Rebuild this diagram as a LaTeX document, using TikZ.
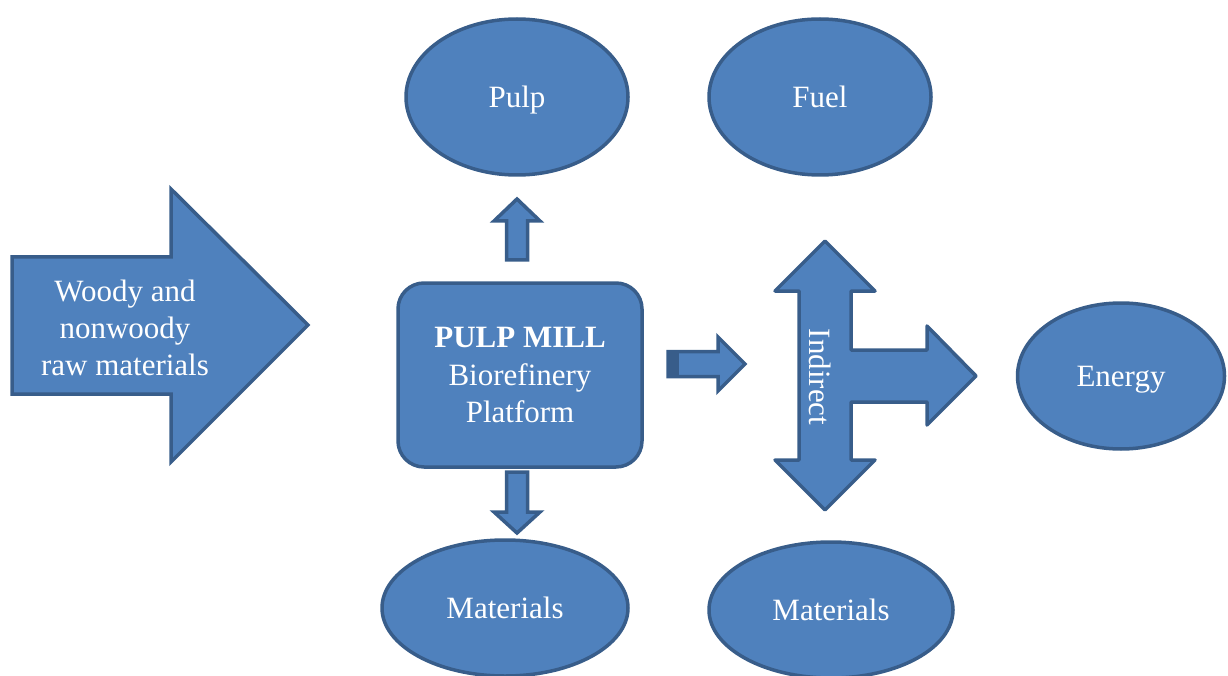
\documentclass[tikz,border=0pt]{standalone}
\usepackage{fontspec}
\setmainfont{Liberation Serif}
\usetikzlibrary{shapes.geometric}
\definecolor{oblue}{HTML}{4F81BD}
\definecolor{oedge}{HTML}{385D8A}
\tikzset{
  every picture/.style={line width=3.5pt},
  blob/.style={ellipse, draw=oedge, fill=oblue, text=white, inner sep=0pt, text depth=0pt},
  block/.style={draw=oedge, fill=oblue, line join=miter},
  label/.style={text=white, align=center, font=\fontsize{31}{37}\selectfont},
}

\begin{document}
\begin{tikzpicture}[x=1pt, y=-1pt, every node/.append style={font=\fontsize{31}{37}\selectfont}]
  \useasboundingbox (0,0) rectangle (1228,676);
  % input arrow with the raw materials
  \draw[block] (12,257) -- (171,257) -- (171,189) -- (308,325) -- (171,462) -- (171,394) -- (12,394) -- cycle;
  \node[label] (raw) at (125,328) {Woody and\\nonwoody\\raw materials};
  % central platform
  \node[draw=oedge, fill=oblue, rounded corners=26pt, minimum width=244pt, minimum height=184pt, label]
    (mill) at (520,375) {\textbf{PULP MILL}\\Biorefinery\\Platform};
  % small arrows out of the mill
  \draw[block] (506.5,260) -- (506.5,221) -- (494,221) -- (517,199) -- (540,221) -- (527.5,221) -- (527.5,260) -- cycle;
  \draw[block] (506.5,472) -- (506.5,512) -- (494,512) -- (517,533) -- (540,512) -- (527.5,512) -- (527.5,472) -- cycle;
  \draw[block] (668,351.5) -- (718,351.5) -- (718,337) -- (745,364) -- (718,391) -- (718,376.5) -- (668,376.5) -- cycle;
  \fill[oedge] (667,350) rectangle (679,378);
  % three-way indirect arrow
  \draw[block, line join=round] (825,241) -- (875,291) -- (851,291) -- (851,350) -- (927,350) -- (927,326)
    -- (976,376) -- (927,425) -- (927,402) -- (851,402) -- (851,460) -- (875,460) -- (825,510)
    -- (775,460) -- (799,460) -- (799,291) -- (775,291) -- cycle;
  \node[text=white, rotate=-90] (indirect) at (820,377) {Indirect};
  % products
  \node[blob, minimum width=222pt, minimum height=156pt] (pulp) at (517,97) {Pulp};
  \node[blob, minimum width=222pt, minimum height=156pt] (fuel) at (820,97) {Fuel};
  \node[blob, minimum width=207pt, minimum height=146pt] (energy) at (1121,376) {Energy};
  \node[blob, minimum width=246pt, minimum height=136pt] (matl) at (505,608) {Materials};
  \node[blob, minimum width=244pt, minimum height=136pt] (matr) at (831,610) {Materials};
\end{tikzpicture}
\end{document}
